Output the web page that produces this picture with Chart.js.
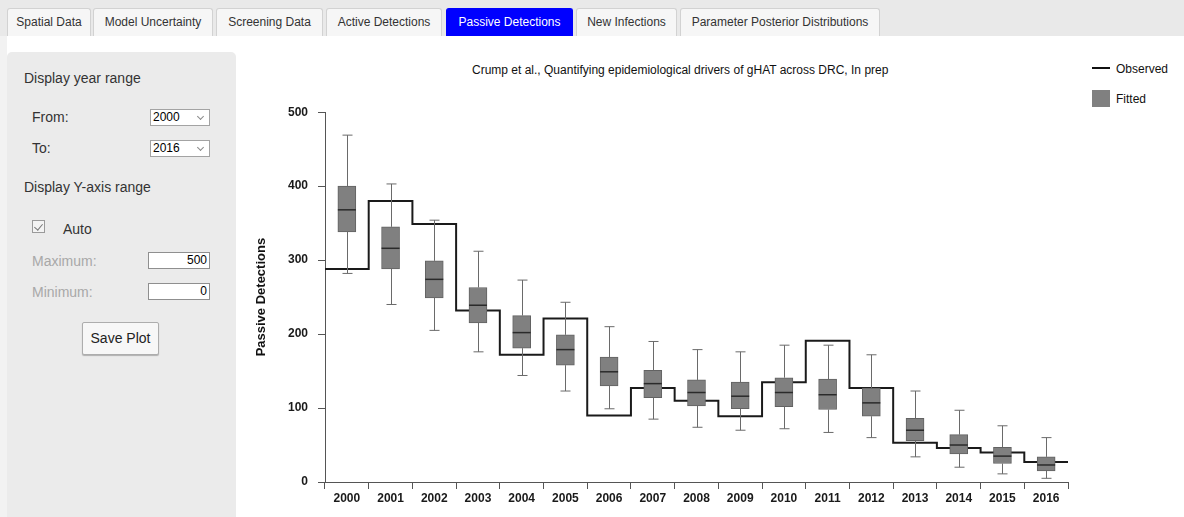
<!DOCTYPE html>
<html>
<head>
<meta charset="utf-8">
<title>Passive Detections</title>
<script src="https://cdn.jsdelivr.net/npm/chart.js@4.4.0/dist/chart.umd.min.js"></script>
<style>
  html, body { margin: 0; padding: 0; }
  body {
    width: 1184px; height: 517px; overflow: hidden; position: relative;
    background: #fff; color: #333;
    font-family: "Liberation Sans", Arial, Helvetica, sans-serif;
  }
  #topbar { position: absolute; left: 0; top: 0; width: 1184px; height: 36px; background: #e9e9e9; }
  #leftstrip { position: absolute; left: 0; top: 36px; width: 7px; height: 481px; background: #f2f2f2; }
  .tab {
    position: absolute; top: 8px; height: 28px; box-sizing: border-box;
    border: 1px solid #d2d2d2; border-bottom: none; border-radius: 3px 3px 0 0;
    background: #f6f6f6; font-size: 12px; line-height: 26px; text-align: center; color: #333;
    white-space: nowrap;
  }
  .tab.active { background: #0000ff; border-color: #0000ff; color: #fff; }
  #sidebar {
    position: absolute; left: 7px; top: 52px; width: 229px; height: 470px;
    background: #ebebeb; border-radius: 5px 5px 0 0;
  }
  .lbl { position: absolute; font-size: 14px; line-height: 16px; color: #333; white-space: nowrap; }
  .lbl.dim { color: #a8a8a8; }
  .sel {
    position: absolute; left: 150px; width: 60px; height: 17px; box-sizing: border-box;
    border: 1px solid #a3a3a3; background: #fff; font-size: 12px; line-height: 15px;
    color: #000; padding-left: 2px;
  }
  .sel .chev {
    position: absolute; right: 6px; top: 4px; width: 4px; height: 4px;
    border-right: 1px solid #8a8a8a; border-bottom: 1px solid #8a8a8a; transform: rotate(45deg);
  }
  .num {
    position: absolute; left: 148px; width: 62px; height: 17px; box-sizing: border-box;
    border: 1px solid #8f8f8f; background: #fff; font-size: 12px; line-height: 15px;
    color: #000; text-align: right; padding-right: 2px;
  }
  #check {
    position: absolute; left: 32px; top: 220px; width: 13px; height: 13px; box-sizing: border-box;
    border: 1px solid #9a9a9a; background: #f3f3f3;
  }
  #check::after {
    content: ""; position: absolute; left: 3px; top: 1px; width: 4px; height: 7px;
    border-right: 1px solid #777; border-bottom: 1px solid #777; transform: rotate(40deg);
  }
  #saveBtn {
    position: absolute; left: 82px; top: 322px; width: 77px; height: 33px; box-sizing: border-box;
    border: 1px solid #adadad; background: #f7f7f7; border-radius: 2px;
    box-shadow: 0 1px 1px rgba(0,0,0,0.25);
    font-size: 14px; line-height: 31px; text-align: center; color: #222;
  }
  #plotTitle { position: absolute; left: 472px; top: 63px; font-size: 12px; line-height: 14px; color: #111; white-space: nowrap; }
  .legText { position: absolute; left: 1116px; font-size: 12px; line-height: 14px; color: #111; }
  #legLine { position: absolute; left: 1092px; top: 67px; width: 18px; height: 2px; background: #111; }
  #legBox { position: absolute; left: 1092px; top: 90px; width: 18px; height: 17px; background: #808080; }
  #chartWrap { position: absolute; left: 240px; top: 95px; width: 944px; height: 422px; }
</style>
</head>
<body>
  <div id="topbar"></div>
  <div id="leftstrip"></div>

  <div class="tab" style="left:7px;width:84px;">Spatial Data</div>
  <div class="tab" style="left:93px;width:120px;">Model Uncertainty</div>
  <div class="tab" style="left:216px;width:107px;">Screening Data</div>
  <div class="tab" style="left:326px;width:116px;">Active Detections</div>
  <div class="tab active" style="left:446px;width:127px;">Passive Detections</div>
  <div class="tab" style="left:576px;width:101px;">New Infections</div>
  <div class="tab" style="left:680px;width:200px;">Parameter Posterior Distributions</div>

  <div id="sidebar"></div>
  <div class="lbl" style="left:24px;top:70px;">Display year range</div>
  <div class="lbl" style="left:32px;top:109px;">From:</div>
  <div class="sel" style="top:109px;">2000<span class="chev"></span></div>
  <div class="lbl" style="left:32px;top:140px;">To:</div>
  <div class="sel" style="top:140px;">2016<span class="chev"></span></div>
  <div class="lbl" style="left:24px;top:179px;">Display Y-axis range</div>
  <div id="check"></div>
  <div class="lbl" style="left:63px;top:221px;">Auto</div>
  <div class="lbl dim" style="left:32px;top:253px;">Maximum:</div>
  <div class="num" style="top:252px;">500</div>
  <div class="lbl dim" style="left:32px;top:284px;">Minimum:</div>
  <div class="num" style="top:283px;">0</div>
  <div id="saveBtn">Save Plot</div>

  <div id="plotTitle">Crump et al., Quantifying epidemiological drivers of gHAT across DRC, In prep</div>
  <div id="legLine"></div>
  <div class="legText" style="top:62px;">Observed</div>
  <div id="legBox"></div>
  <div class="legText" style="top:92px;">Fitted</div>

  <div id="chartWrap"><canvas id="chart" width="944" height="422"></canvas></div>

<script>
// Yearly passive case detections: observed counts and fitted distribution summaries
const years = ['2000','2001','2002','2003','2004','2005','2006','2007','2008',
               '2009','2010','2011','2012','2013','2014','2015','2016'];
const observed     = [288, 380, 349, 232, 172, 221,  90, 127, 110,  89, 135, 191, 127,  53,  46,  40,  27];
const fittedMin    = [282, 240, 205, 176, 144, 123,  99,  85,  74,  70,  72,  67,  60,  34,  20,  11,   5];
const fittedQ1     = [338, 288, 249, 215, 181, 158, 130, 114, 103,  99, 102,  98,  89,  56,  38,  25,  15];
const fittedMedian = [368, 316, 274, 239, 202, 179, 149, 133, 121, 116, 121, 118, 107,  70,  50,  35,  23];
const fittedQ3     = [400, 345, 299, 263, 225, 199, 169, 151, 138, 135, 141, 139, 127,  86,  64,  47,  34];
const fittedMax    = [469, 403, 354, 312, 273, 243, 210, 190, 179, 176, 185, 185, 172, 123,  97,  76,  60];
const yTicks = [0, 100, 200, 300, 400, 500];

const FONT = '"Liberation Sans", Arial, Helvetica, sans-serif';

// Boxes span the interquartile range, one per year slot on the numeric year axis
const boxData = fittedQ1.map((q1, i) => ({ x: i, y: [q1, fittedQ3[i]] }));

// Observed series as a step line spanning each full year slot
const stepData = observed.map((v, i) => ({ x: i - 0.5, y: v }))
  .concat([{ x: observed.length - 0.5, y: observed[observed.length - 1] }]);

// Whiskers, caps and medians drawn right after the box dataset
const boxWhiskers = {
  id: 'boxWhiskers',
  afterDatasetDraw(chart, args) {
    if (args.index !== 0) return;
    const ctx = chart.ctx;
    const y = chart.scales.y;
    ctx.save();
    args.meta.data.forEach((bar, i) => {
      const cx = Math.round(bar.x) + 0.5;
      const half = bar.width / 2;
      const capHalf = 5;
      const yMin = y.getPixelForValue(fittedMin[i]);
      const yMax = y.getPixelForValue(fittedMax[i]);
      const yQ1 = y.getPixelForValue(fittedQ1[i]);
      const yQ3 = y.getPixelForValue(fittedQ3[i]);
      const yMed = y.getPixelForValue(fittedMedian[i]);
      ctx.strokeStyle = '#6a6a6a';
      ctx.lineWidth = 1;
      ctx.beginPath();
      ctx.moveTo(cx, yQ3); ctx.lineTo(cx, yMax);
      ctx.moveTo(cx - capHalf, yMax); ctx.lineTo(cx + capHalf, yMax);
      ctx.moveTo(cx, yQ1); ctx.lineTo(cx, yMin);
      ctx.moveTo(cx - capHalf, yMin); ctx.lineTo(cx + capHalf, yMin);
      ctx.stroke();
      ctx.strokeStyle = '#2a2a2a';
      ctx.lineWidth = 1.5;
      ctx.beginPath();
      ctx.moveTo(bar.x - half, yMed); ctx.lineTo(bar.x + half, yMed);
      ctx.stroke();
    });
    ctx.restore();
  }
};

new Chart(document.getElementById('chart'), {
  type: 'bar',
  data: {
    labels: years,
    datasets: [
      {
        label: 'Fitted',
        data: boxData,
        xAxisID: 'xs',
        backgroundColor: '#808080',
        borderColor: '#626262',
        borderWidth: 1,
        borderSkipped: false,
        barThickness: 18,
        order: 0
      },
      {
        type: 'line',
        label: 'Observed',
        data: stepData,
        xAxisID: 'xs',
        stepped: 'before',
        borderColor: '#1a1a1a',
        borderWidth: 2,
        pointRadius: 0,
        fill: false,
        order: 1
      }
    ]
  },
  options: {
    responsive: false,
    animation: false,
    layout: { padding: { top: 15, right: 116, bottom: 0, left: 0 } },
    plugins: {
      legend: { display: false },
      title: { display: false },
      tooltip: { enabled: false }
    },
    scales: {
      // Year labels with tick marks at slot boundaries
      x: {
        type: 'category',
        labels: years,
        offset: true,
        grid: { display: true, offset: true, drawOnChartArea: false, drawTicks: true, tickLength: 7, color: '#555' },
        border: { display: true, color: '#555', width: 1 },
        ticks: { color: '#1a1a1a', font: { family: FONT, size: 12, weight: 'bold' }, padding: 2, maxRotation: 0, autoSkip: false },
        afterFit(scale) { scale.height = 35; }
      },
      // Numeric year-slot axis shared by the boxes and the step line
      xs: {
        type: 'linear',
        display: false,
        offset: false,
        min: -0.5,
        max: years.length - 0.5
      },
      y: {
        min: yTicks[0],
        max: yTicks[yTicks.length - 1],
        afterBuildTicks(scale) { scale.ticks = yTicks.map(v => ({ value: v })); },
        grid: { display: true, drawOnChartArea: false, drawTicks: true, tickLength: 7, color: '#555' },
        border: { display: true, color: '#555', width: 1 },
        ticks: { color: '#1a1a1a', font: { family: FONT, size: 12, weight: 'bold' }, padding: 10 },
        title: {
          display: true, text: 'Passive Detections', color: '#111',
          font: { family: FONT, size: 13, weight: 'bold' },
          padding: { top: 14, bottom: 0 }
        },
        afterFit(scale) { scale.width = 85; }
      }
    }
  },
  plugins: [boxWhiskers]
});
</script>
</body>
</html>
